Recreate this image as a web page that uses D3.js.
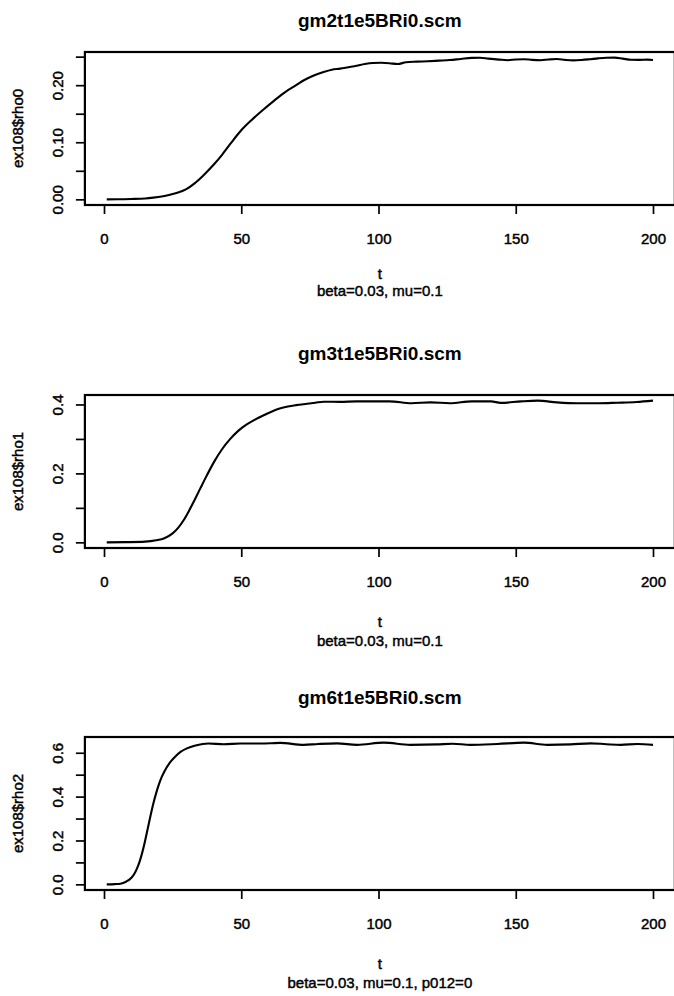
<!DOCTYPE html>
<html><head><meta charset="utf-8">
<script src="https://cdn.jsdelivr.net/npm/d3@7/dist/d3.min.js"></script>
<style>body{margin:0;background:#fff}svg{display:block}</style>
</head><body><svg id="c" width="674" height="996"></svg>
<script>
// ---- data ----
const titles = ["gm2t1e5BRi0.scm", "gm3t1e5BRi0.scm", "gm6t1e5BRi0.scm"];
const yLabels = ["ex108$rho0", "ex108$rho1", "ex108$rho2"];
const xLabel = "t";
const subtitles = ["beta=0.03, mu=0.1", "beta=0.03, mu=0.1", "beta=0.03, mu=0.1, p012=0"];
const xTicks = [0, 50, 100, 150, 200];

const yTicks0 = [0, 0.05, 0.10, 0.15, 0.20, 0.25];
const yTickLabels0 = ["0.00", "", "0.10", "", "0.20", ""];
const yTicks1 = [0, 0.1, 0.2, 0.3, 0.4];
const yTickLabels1 = ["0.0", "", "0.2", "", "0.4"];
const yTicks2 = [0, 0.1, 0.2, 0.3, 0.4, 0.5, 0.6];
const yTickLabels2 = ["0.0", "", "0.2", "", "0.4", "", "0.6"];

const t0 = [1, 5, 10, 15, 18, 21, 24, 27, 30, 33, 36, 40, 43, 46, 50, 54, 58, 62, 66, 70, 73, 76, 80, 83, 86, 89, 92, 95, 98, 101, 104, 107, 110, 114, 118, 122, 126, 130, 134, 137, 140, 144, 147, 150, 153, 156, 159, 162, 165, 168, 171, 174, 177, 180, 183, 186, 189, 192, 195, 198, 200];
const rho0 = [0, 0.0002, 0.0006, 0.0015, 0.003, 0.005, 0.008, 0.012, 0.018, 0.028, 0.041, 0.061, 0.078, 0.097, 0.121, 0.140, 0.157, 0.173, 0.188, 0.200, 0.209, 0.216, 0.223, 0.227, 0.229, 0.2315, 0.234, 0.237, 0.2388, 0.2392, 0.2385, 0.237, 0.2402, 0.2412, 0.242, 0.243, 0.244, 0.246, 0.2478, 0.248, 0.2465, 0.2448, 0.2438, 0.245, 0.2455, 0.2443, 0.2437, 0.245, 0.2458, 0.2443, 0.2435, 0.2442, 0.2455, 0.247, 0.248, 0.2482, 0.2465, 0.2445, 0.2443, 0.2448, 0.2442];

const t1 = [1, 8, 15, 19, 22, 25, 27, 29, 31, 33, 35, 37, 40, 43, 46, 49, 52, 55, 58, 61, 64, 67, 70, 74, 77, 80, 86, 92, 97, 104, 112, 119, 126, 134, 141, 144.5, 152, 158, 165, 172.5, 180, 187, 194, 200];
const rho1 = [0, 0.0005, 0.002, 0.006, 0.012, 0.026, 0.042, 0.064, 0.092, 0.123, 0.155, 0.187, 0.232, 0.270, 0.300, 0.324, 0.342, 0.356, 0.368, 0.379, 0.388, 0.394, 0.398, 0.402, 0.405, 0.408, 0.4075, 0.409, 0.409, 0.409, 0.4035, 0.406, 0.4035, 0.409, 0.409, 0.4045, 0.409, 0.411, 0.406, 0.4035, 0.4035, 0.405, 0.407, 0.411];

const t2 = [1, 4, 6, 8, 10, 11, 12, 13, 14, 15, 16, 17, 18, 19, 20, 21, 22, 24, 26, 28, 30, 33, 36, 38, 43.6, 49.7, 56.9, 60.6, 64.2, 72.7, 78, 84.9, 92.2, 101.9, 111.6, 121.4, 127, 133.5, 143.3, 153, 161.5, 170, 177.3, 183, 188.3, 194.4, 200];
const rho2 = [0, 0.001, 0.003, 0.012, 0.03, 0.047, 0.072, 0.105, 0.148, 0.2, 0.258, 0.316, 0.37, 0.416, 0.456, 0.489, 0.515, 0.555, 0.583, 0.605, 0.619, 0.632, 0.64, 0.642, 0.639, 0.642, 0.642, 0.643, 0.645, 0.636, 0.64, 0.643, 0.636, 0.646, 0.636, 0.638, 0.641, 0.636, 0.64, 0.646, 0.636, 0.638, 0.643, 0.639, 0.636, 0.64, 0.636];

// ---- layout ----
const series = [
  {t: t0, v: rho0, ticks: yTicks0, labels: yTickLabels0},
  {t: t1, v: rho1, ticks: yTicks1, labels: yTickLabels1},
  {t: t2, v: rho2, ticks: yTicks2, labels: yTickLabels2}
];
const boxTops = [52, 395, 737];
const titleY = [20, 353, 697];
const xlabOff = [68, 73, 73];
const subOff = [85, 92, 92];
const boxH = 153;
const FONT = "'Liberation Sans', Arial, Helvetica, sans-serif";

const svg = d3.select("#c");

function heavy(sel) {
  return sel.attr("fill", "#000").attr("stroke", "#000").attr("stroke-width", 0.45);
}

series.forEach((s, i) => {
  const top = boxTops[i], bottom = top + boxH;
  const xmin = d3.min(s.t), xmax = d3.max(s.t), xr = xmax - xmin;
  const x = d3.scaleLinear().domain([xmin - 0.04 * xr, xmax + 0.04 * xr])
    .range([104 + (xmin - 0.04 * xr) * 2.745, 104 + (xmax + 0.04 * xr) * 2.745]);
  const ymin = d3.min(s.v), ymax = d3.max(s.v), yr = ymax - ymin;
  const y = d3.scaleLinear().domain([ymin - 0.04 * yr, ymax + 0.04 * yr]).range([bottom, top]);

  const g = svg.append("g");

  g.append("path")
    .datum(d3.zip(s.t, s.v))
    .attr("fill", "none").attr("stroke", "#000").attr("stroke-width", 2.1)
    .attr("stroke-linejoin", "round")
    .attr("d", d3.line().curve(d3.curveMonotoneX).x(d => x(d[0])).y(d => y(d[1])));

  const [x0, x1] = x.range();
  g.append("rect").attr("x", x0).attr("y", top).attr("width", x1 - x0).attr("height", boxH)
    .attr("fill", "none").attr("stroke", "#000").attr("stroke-width", 2.2);

  const xa = g.append("g").attr("transform", `translate(0,${bottom})`)
    .call(d3.axisBottom(x).tickValues(xTicks).tickSize(9).tickPadding(19).tickFormat(d3.format("d")));
  xa.select(".domain").remove();
  xa.selectAll("line").attr("stroke-width", 1.7);
  heavy(xa.selectAll("text").attr("font-family", FONT).attr("font-size", 15));

  const ya = g.append("g").attr("transform", `translate(${x0},0)`)
    .call(d3.axisLeft(y).tickValues(s.ticks).tickSize(9).tickFormat((d, k) => s.labels[k]));
  ya.select(".domain").remove();
  ya.selectAll("line").attr("stroke-width", 1.7);
  heavy(ya.selectAll("text")
    .attr("x", null).attr("dy", null)
    .attr("text-anchor", "middle")
    .attr("dominant-baseline", "central")
    .attr("transform", `translate(${57 - x0},0) rotate(-90)`)
    .attr("font-family", FONT).attr("font-size", 15));

  g.append("text").attr("x", (x0 + x1) / 2).attr("y", titleY[i])
    .attr("text-anchor", "middle").attr("dominant-baseline", "central")
    .attr("font-family", FONT).attr("font-weight", "bold").attr("font-size", 19)
    .attr("fill", "#000").text(titles[i]);

  heavy(g.append("text").attr("transform", `translate(17,${(top + bottom) / 2}) rotate(-90)`)
    .attr("text-anchor", "middle").attr("dominant-baseline", "central")
    .attr("font-family", FONT).attr("font-size", 15)
    .text(yLabels[i]));

  heavy(g.append("text").attr("x", (x0 + x1) / 2).attr("y", bottom + xlabOff[i])
    .attr("text-anchor", "middle").attr("dominant-baseline", "central")
    .attr("font-family", FONT).attr("font-size", 15).text(xLabel));
  heavy(g.append("text").attr("x", (x0 + x1) / 2).attr("y", bottom + subOff[i])
    .attr("text-anchor", "middle").attr("dominant-baseline", "central")
    .attr("font-family", FONT).attr("font-size", 15).text(subtitles[i]));
});
</script>
</body></html>
